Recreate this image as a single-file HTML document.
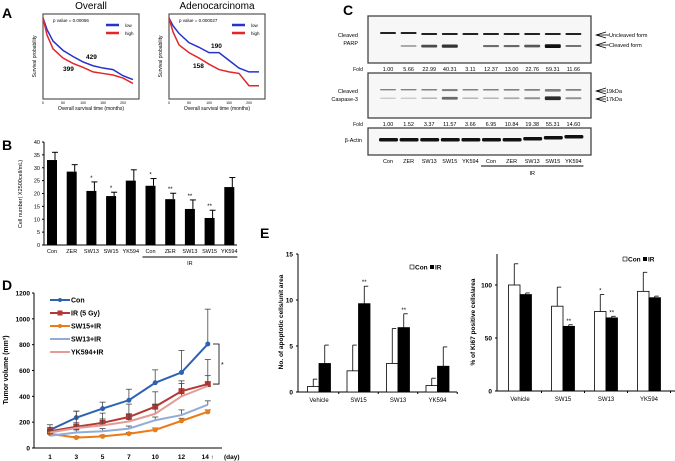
<!DOCTYPE html>
<html><head><meta charset="utf-8"><style>
html,body{margin:0;padding:0;background:#fff}
svg{display:block;font-family:"Liberation Sans",Arial,sans-serif}
</style></head><body>
<svg id="fig" width="675" height="461" viewBox="0 0 675 461" xmlns="http://www.w3.org/2000/svg">
<g id="static">
<text x="2" y="18" font-size="14" font-weight="bold">A</text>
<text x="2" y="150" font-size="14" font-weight="bold">B</text>
<text x="343" y="15" font-size="14" font-weight="bold">C</text>
<text x="2" y="290" font-size="14" font-weight="bold">D</text>
<text x="260" y="238" font-size="14" font-weight="bold">E</text>
</g>
</svg>
<script>
const NS="http://www.w3.org/2000/svg";
const svg=document.getElementById('fig');
function mk(t,a,p){const e=document.createElementNS(NS,t);for(const k in a)e.setAttribute(k,a[k]);(p||svg).appendChild(e);return e;}
function tx(x,y,s,a,p){const e=mk('text',Object.assign({x:x,y:y},a),p);e.textContent=s;return e;}

// ===== Panel A data =====
const kmTimes=[0,10,25,50,75,100,125,150,175,200,225];
const kmOverallLow=[1.0,0.85,0.7,0.58,0.5,0.43,0.38,0.35,0.33,0.25,0.2];
const kmOverallHigh=[1.0,0.78,0.6,0.48,0.41,0.36,0.3,0.28,0.26,0.22,0.15];
const kmAdenoLow=[1.0,0.9,0.8,0.68,0.62,0.55,0.55,0.45,0.35,0.3,0.3];
const kmAdenoHigh=[1.0,0.82,0.65,0.55,0.48,0.4,0.33,0.3,0.28,0.12,0.12];
function kmPanel(x0,title,pval,low,high,nLow,nHigh,posLow,posHigh,name){
  const g=mk('g',{});
  
  
  const L=x0,R=x0+96,T=14,B=99;
  mk('rect',{x:L,y:T,width:R-L,height:B-T,fill:'#fff',stroke:'#555','stroke-width':1.2},g);
  tx((L+R)/2,9,title,{'font-size':10,'text-anchor':'middle'},g);
  tx(L+10,22,'p value = '+pval,{'font-size':4.5},g);
  const sx=t=>L+t/240*(R-L), sy=v=>B-4-v*(B-T-8);
  [[low,'#2633c9'],[high,'#e2262a']].forEach(([arr,c],i)=>{
    let d='';arr.forEach((v,j)=>{d+=(j?'L':'M')+sx(kmTimes[j])+','+sy(v)+' ';});
    const p=mk('path',{d:d,fill:'none',stroke:c,'stroke-width':1.5},g);
    
    
    mk('line',{x1:R-33,x2:R-20,y1:25+i*8,y2:25+i*8,stroke:c,'stroke-width':2.5},g);
    tx(R-14,27+i*8,i?'high':'low',{'font-size':4.5},g);
  });
  tx(posLow[0],posLow[1],nLow,{'font-size':6.5,'font-weight':'bold'},g);
  tx(posHigh[0],posHigh[1],nHigh,{'font-size':6.5,'font-weight':'bold'},g);
  tx(0,0,'Survival probability',{'font-size':5,'text-anchor':'middle',transform:'translate('+(L-7)+','+((T+B)/2)+') rotate(-90)'},g);
  tx((L+R)/2,110,'Overall survival time (months)',{'font-size':5,'text-anchor':'middle'},g);
  ['0','50','100','150','200'].forEach((s,i)=>tx(sx(i*50),104,s,{'font-size':3.5,'text-anchor':'middle'},g));
}
kmPanel(43,'Overall','0.00066',kmOverallLow,kmOverallHigh,'429','399',[86,59],[63,71],'km-overall-plot');
kmPanel(169,'Adenocarcinoma','0.000027',kmAdenoLow,kmAdenoHigh,'190','158',[211,48],[193,68],'km-adeno-plot');

// ===== Panel B =====
const bCats=['Con','ZER','SW13','SW15','YK594','Con','ZER','SW13','SW15','YK594'];
const bVals=[33,28.5,21,19,25,23,17.8,14,10.5,22.5];
const bErr=[3,2.7,3.5,1.5,4.2,2.8,2.3,3.5,3,3.7];
const bStars=['','','*','*','','*','**','**','**',''];
const bTicks=[0,5,10,15,20,25,30,35,40];
(function(){
  const g=mk('g',{});
  
  
  const x0=44,x1=237,y0=245,yT=142,sy=v=>y0-v/40*(y0-yT),bx=i=>52+i*19.7;
  mk('line',{x1:x0,x2:x0,y1:yT,y2:y0,stroke:'#000'},g);
  mk('line',{x1:x0,x2:x1,y1:y0,y2:y0,stroke:'#000'},g);
  bTicks.forEach(t=>{mk('line',{x1:x0-2,x2:x0,y1:sy(t),y2:sy(t),stroke:'#000'},g);tx(x0-4,sy(t)+2,String(t),{'font-size':5.5,'text-anchor':'end'},g);});
  bVals.forEach((v,i)=>{
    const r=mk('rect',{x:bx(i)-5,y:sy(v),width:10,height:y0-sy(v),fill:'#000'},g);
    
    
    const e=sy(v+bErr[i]);
    mk('line',{x1:bx(i)+3,x2:bx(i)+3,y1:e,y2:sy(v),stroke:'#000'},g);
    mk('line',{x1:bx(i),x2:bx(i)+6,y1:e,y2:e,stroke:'#000'},g);
    if(bStars[i])tx(bx(i),e-2,bStars[i],{'font-size':6,'text-anchor':'middle'},g);
    tx(bx(i),253,bCats[i],{'font-size':5.5,'text-anchor':'middle'},g);
  });
  mk('line',{x1:bx(5)-8,x2:bx(9)+8,y1:257,y2:257,stroke:'#000'},g);
  tx((bx(5)+bx(9))/2,265,'IR',{'font-size':5.5,'text-anchor':'middle'},g);
  tx(0,0,'Cell number( X2500cell/mL)',{'font-size':5.5,'text-anchor':'middle',transform:'translate(22,194) rotate(-90)'},g);
})();

// ===== Panel C =====
const cLanes=['Con','ZER','SW13','SW15','YK594','Con','ZER','SW13','SW15','YK594'];
const parpFold=['1.00','5.66','22.99','40.31','3.11','12.37','13.00','22.76','59.31','11.66'];
const casFold=['1.00','1.52','3.37','11.57','3.66','6.95','10.84','19.38','55.31','14.60'];
const parpCleaved=[0,0.2,0.8,1,0,0.5,0.55,0.7,1.3,0.45];
const casInt=[0.4,0.4,0.5,1.1,0.5,0.5,0.6,0.8,1.6,0.8];
(function(){
  const g=mk('g',{});
  
  
  const lx=i=>388+i*20.6;
  [[368,16,223,47],[368,73,223,45],[368,128,223,27]].forEach(b=>mk('rect',{x:b[0],y:b[1],width:b[2],height:b[3],fill:'#f7f7f7',stroke:'#444','stroke-width':1.3},g));
  cLanes.forEach((n,i)=>{
    mk('rect',{x:lx(i)-8,y:33+(i<2?-1:0),width:16,height:2,fill:'#222',rx:1},g);
    if(parpCleaved[i]>0)mk('rect',{x:lx(i)-8,y:45.5-parpCleaved[i],width:16,height:1+parpCleaved[i]*2.2,fill:'#111',rx:1,opacity:Math.min(1,0.35+parpCleaved[i]*0.5)},g);
    mk('rect',{x:lx(i)-8,y:89,width:16,height:1+casInt[i],fill:'#333',rx:1,opacity:0.6},g);
    mk('rect',{x:lx(i)-8,y:98-casInt[i],width:16,height:0.5+casInt[i]*2,fill:'#222',rx:1,opacity:Math.min(1,casInt[i]*0.6)},g);
    mk('rect',{x:lx(i)-9,y:138-(i>6?(i-6)*1:0),width:19,height:3.5,fill:'#111',rx:1.5},g);
    tx(lx(i),71,parpFold[i],{'font-size':5.5,'text-anchor':'middle'},g);
    tx(lx(i),126,casFold[i],{'font-size':5.5,'text-anchor':'middle'},g);
    tx(lx(i),163,n,{'font-size':5.5,'text-anchor':'middle'},g);
  });
  tx(358,71,'Fold',{'font-size':5,'text-anchor':'middle'},g);
  tx(358,126,'Fold',{'font-size':5,'text-anchor':'middle'},g);
  tx(358,37,'Cleaved',{'font-size':5.5,'text-anchor':'end'},g);
  tx(358,45,'PARP',{'font-size':5.5,'text-anchor':'end'},g);
  tx(358,93,'Cleaved',{'font-size':5.5,'text-anchor':'end'},g);
  tx(358,101,'Caspase-3',{'font-size':5.5,'text-anchor':'end'},g);
  tx(362,142,'β-Actin',{'font-size':5.5,'text-anchor':'end'},g);
  [[35,'Uncleaved form'],[45,'Cleaved form'],[91,'19kDa'],[99,'17kDa']].forEach(([y,s])=>{
    mk('path',{d:'M606,'+(y-3)+' L596,'+y+' L606,'+(y+3)+' M596,'+y+' L'+(s.length>6?609:606)+','+y,fill:'none',stroke:'#000','stroke-width':0.7},g);
    tx(s.length>6?609:606,y+2,s,{'font-size':5.5},g);
  });
  mk('line',{x1:lx(5)-10,x2:lx(9)+10,y1:166,y2:166,stroke:'#000'},g);
  tx((lx(5)+lx(9))/2,175,'IR',{'font-size':5.5,'text-anchor':'middle'},g);
})();

// ===== Panel D =====
const dDays=['1','3','5','7','10','12','14'];
const dSeriesNames=['Con','IR (5 Gy)','SW15+IR','SW13+IR','YK594+IR'];
const dCon=[140,235,305,370,505,585,805];
const dConErr=[40,50,50,85,100,170,270];
const dIR=[130,165,195,240,320,440,495];
const dIRErr=[30,120,75,100,115,80,190];
const dSW15=[110,80,90,110,140,210,280];
const dSW15Err=[15,10,10,10,15,20,15];
const dSW13=[95,120,130,150,215,255,335];
const dSW13Err=[15,20,20,20,25,40,30];
const dYK=[120,155,175,205,265,400,480];
const dYKErr=[20,40,50,60,70,100,80];
const dTicks=[0,200,400,600,800,1000,1200];
(function(){
  const g=mk('g',{});
  
  
  const x0=34,y0=448,yT=293,sy=v=>y0-v/1200*(y0-yT),sx=i=>50+i*26.3;
  mk('line',{x1:x0,x2:x0,y1:yT,y2:y0,stroke:'#000'},g);
  mk('line',{x1:x0,x2:222,y1:y0,y2:y0,stroke:'#000'},g);
  dTicks.forEach(t=>{mk('line',{x1:x0-2,x2:x0,y1:sy(t),y2:sy(t),stroke:'#000'},g);tx(x0-4,sy(t)+2.5,String(t),{'font-size':6.5,'font-weight':'bold','text-anchor':'end'},g);});
  dDays.forEach((d,i)=>tx(sx(i),459,d+(i==6?' ↑':''),{'font-size':6.5,'font-weight':'bold','text-anchor':'middle'},g));
  tx(224,459,'(day)',{'font-size':6.5,'font-weight':'bold'},g);
  tx(0,0,'Tumor volume (mm³)',{'font-size':7,'font-weight':'bold','text-anchor':'middle',transform:'translate(8,370) rotate(-90)'},g);
  const series=[[dCon,dConErr,'#2d62b0','circle'],[dIR,dIRErr,'#b23a33','square'],[dSW15,dSW15Err,'#ea7b16','circle'],[dSW13,dSW13Err,'#91acd8','plus'],[dYK,dYKErr,'#e29b97','line']];
  series.forEach(([vals,err,c,mkT],s)=>{
    vals.forEach((v,i)=>{mk('line',{x1:sx(i),x2:sx(i),y1:sy(v),y2:sy(v+err[i]),stroke:'#444','stroke-width':0.8},g);mk('line',{x1:sx(i)-3,x2:sx(i)+3,y1:sy(v+err[i]),y2:sy(v+err[i]),stroke:'#444','stroke-width':0.8},g);});
    let d='';vals.forEach((v,i)=>d+=(i?'L':'M')+sx(i)+','+sy(v)+' ');
    const p=mk('path',{d:d,fill:'none',stroke:c,'stroke-width':2},g);
    
    
    vals.forEach((v,i)=>{
      if(mkT=='circle')mk('circle',{cx:sx(i),cy:sy(v),r:2.5,fill:c},g);
      else if(mkT=='square')mk('rect',{x:sx(i)-3,y:sy(v)-3,width:6,height:6,fill:c},g);
    });
    const ly=300+s*13;
    mk('line',{x1:50,x2:70,y1:ly,y2:ly,stroke:c,'stroke-width':2},g);
    if(mkT=='circle')mk('circle',{cx:60,cy:ly,r:2,fill:c},g);
    if(mkT=='square')mk('rect',{x:57.5,y:ly-2.5,width:5,height:5,fill:c},g);
    const lt=tx(71,ly+2.5,dSeriesNames[s],{'font-size':7,'font-weight':'bold'},g);
    
    
  });
  mk('path',{d:'M213,'+sy(dCon[6])+' H219 V'+sy(dIR[6])+' H213',fill:'none',stroke:'#000','stroke-width':0.8},g);
  tx(221,sy(650)+3,'*',{'font-size':7},g);
})();

// ===== Panel E =====
const eCats=['Vehicle','SW15','SW13','YK594'];
const apoCon=[0.6,2.3,3.1,0.7];
const apoConErr=[0.8,2.8,3.8,0.8];
const apoIR=[3.1,9.6,7.0,2.8];
const apoIRErr=[2.0,1.9,1.5,2.1];
const apoStarsCon=['','','',''];
const apoStarsIR=['','**','**',''];
const apoTicks=[0,5,10,15];
const kiCon=[100,80,75,94];
const kiConErr=[20,18,16,18];
const kiIR=[91,61,69,88];
const kiIRErr=[1.5,1.5,1.5,1.5];
const kiStarsCon=['','','*',''];
const kiStarsIR=['','**','**',''];
const kiTicks=[0,50,100];
function eChart(name,x0,x1,y0,yT,max,ticks,cx0,dx,con,conE,ir,irE,sC,sI,title,titleX,legX,legY){
  const g=mk('g',{});
  
  
  const sy=v=>y0-v/max*(y0-yT),cx=i=>cx0+i*dx;
  mk('line',{x1:x0,x2:x0,y1:254,y2:y0,stroke:'#000'},g);
  mk('line',{x1:x0,x2:x1,y1:y0,y2:y0,stroke:'#000'},g);
  ticks.forEach(t=>{mk('line',{x1:x0-2,x2:x0,y1:sy(t),y2:sy(t),stroke:'#000'},g);tx(x0-5,sy(t)+2.5,String(t),{'font-size':6.5,'font-weight':'bold','text-anchor':'end'},g);});
  eCats.forEach((c,i)=>{
    mk('line',{x1:cx(i)+dx/2,x2:cx(i)+dx/2,y1:y0,y2:y0+2,stroke:'#000'},g);
    [[con,conE,sC,'#fff',-11.5,'con'],[ir,irE,sI,'#000',0,'ir']].forEach(([v,e,s,f,off,k])=>{
      const r=mk('rect',{x:cx(i)+off,y:sy(v[i]),width:11.5,height:y0-sy(v[i]),fill:f,stroke:'#000','stroke-width':0.8},g);
      
      
      const mx=cx(i)+off+5.75,ey=sy(v[i]+e[i]);
      mk('line',{x1:mx,x2:mx,y1:sy(v[i]),y2:ey,stroke:'#000','stroke-width':0.8},g);
      mk('line',{x1:mx,x2:mx+4,y1:ey,y2:ey,stroke:'#000','stroke-width':0.8},g);
      if(s[i])tx(mx,ey-2,s[i],{'font-size':6,'text-anchor':'middle'},g);
    });
    tx(cx(i),y0+10,c,{'font-size':6,'text-anchor':'middle'},g);
  });
  tx(0,0,title,{'font-size':6.5,'font-weight':'bold','text-anchor':'middle',transform:'translate('+titleX+',322) rotate(-90)'},g);
  mk('rect',{x:legX,y:legY-4,width:4,height:4,fill:'#fff',stroke:'#000','stroke-width':0.6},g);
  tx(legX+5,legY+0.5,'Con',{'font-size':6.5,'font-weight':'bold'},g);
  mk('rect',{x:legX+20,y:legY-4,width:4,height:4,fill:'#000'},g);
  tx(legX+25,legY+0.5,'IR',{'font-size':6.5,'font-weight':'bold'},g);
}
eChart('apoptotic-cells-bar-chart',298,457,392,254,15,apoTicks,319,39.5,apoCon,apoConErr,apoIR,apoIRErr,apoStarsCon,apoStarsIR,'No. of apoptotic cells/unit area',283,410,269);
eChart('ki67-positive-bar-chart',497,675,391,285,100,kiTicks,520,43,kiCon,kiConErr,kiIR,kiIRErr,kiStarsCon,kiStarsIR,'% of Ki67 positive cells/area',475,623,261);
</script>
</body></html>
